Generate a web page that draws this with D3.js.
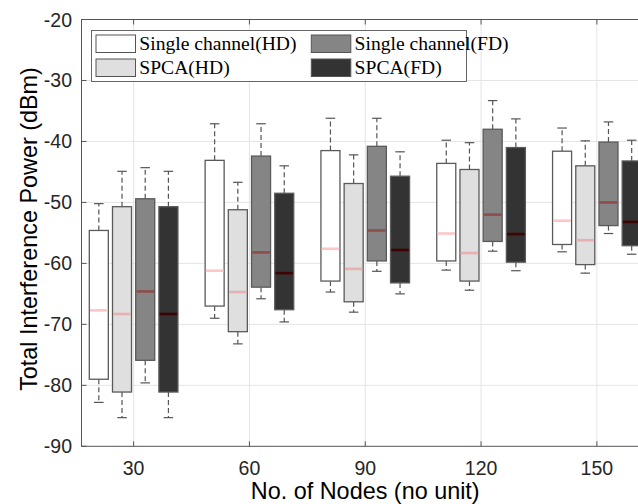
<!DOCTYPE html>
<html lang="en">
<head>
  <meta charset="utf-8">
  <title>Total Interference Power vs No. of Nodes</title>
  <script src="https://d3js.org/d3.v7.min.js"></script>
  <style>
    body { margin: 0; background: #fff; }
    svg { display: block; }
    .tick-label { font-family: "Liberation Sans", Arial, sans-serif; font-size: 19.5px; fill: #262626; }
    .axis-title { font-family: "Liberation Sans", Arial, sans-serif; font-size: 23.4px; fill: #000; }
    .legend text { font-family: "Liberation Serif", "Times New Roman", serif; font-size: 19.6px; fill: #000; }
  </style>
</head>
<body>
  <svg></svg>
  <script>
    // x categories (no. of nodes)
    const nodeCounts = [30, 60, 90, 120, 150];
    const yTicks = [-90, -80, -70, -60, -50, -40, -30, -20];

    // each row: [lower whisker, q1, median, q3, upper whisker] in dBm
    const singleHD = [
      [-82.8, -79.0, -67.7, -54.6, -50.2],
      [-69.0, -67.0, -61.2, -43.1, -37.1],
      [-64.7, -62.9, -57.6, -41.5, -36.2],
      [-61.1, -59.6, -55.1, -43.6, -39.8],
      [-58.1, -56.9, -53.0, -41.6, -37.8]
    ];
    const spcaHD = [
      [-85.3, -81.1, -68.3, -50.7, -44.9],
      [-73.2, -71.2, -64.7, -51.2, -46.7],
      [-68.0, -66.3, -60.9, -46.9, -42.2],
      [-64.4, -62.9, -58.3, -44.6, -40.2],
      [-61.6, -60.2, -56.2, -44.0, -39.9]
    ];
    const singleFD = [
      [-79.6, -75.9, -64.6, -49.4, -44.3],
      [-65.8, -63.9, -58.2, -42.4, -37.1],
      [-61.3, -59.6, -54.6, -40.8, -36.2],
      [-58.0, -56.4, -52.0, -38.0, -33.3],
      [-55.1, -53.8, -50.0, -40.1, -36.8]
    ];
    const spcaFD = [
      [-85.3, -81.1, -68.3, -50.7, -44.9],
      [-69.6, -67.6, -61.6, -48.5, -44.0],
      [-65.0, -63.2, -57.8, -45.7, -41.7],
      [-61.2, -59.8, -55.2, -41.0, -36.3],
      [-58.5, -57.1, -53.2, -43.2, -39.8]
    ];

    const seriesNames = ["Single channel(HD)", "SPCA(HD)", "Single channel(FD)", "SPCA(FD)"];
    const seriesData = [singleHD, spcaHD, singleFD, spcaFD];
    const fills = ["#ffffff", "#dfdfdf", "#858585", "#333333"];
    const medianColors = ["#ffc6c6", "#e8b0b0", "#8e4c4c", "#3e0404"];

    const width = 638, height = 504;
    const svg = d3.select("svg").attr("width", width).attr("height", height);

    // plot area (right edge runs past the window, as in the original)
    const pLeft = 81.5, pRight = 649, pTop = 19.5, pBottom = 446.3;

    // boxes sit at positions 1..5, the axis goes 0.55..5.45
    const x = d3.scaleLinear().domain([0.55, 5.45]).range([pLeft, pRight]);
    const y = d3.scaleLinear().domain([-90, -20]).range([pBottom, pTop]);

    // offset of each series inside a group
    const inner = d3.scaleBand().domain(seriesNames).range([-46.4, 46.4])
      .paddingInner(0.18).paddingOuter(0.09);
    const bw = inner.bandwidth();

    // grid
    const grid = svg.append("g").attr("stroke", "#e4e4e4").attr("stroke-width", 1);
    grid.selectAll(".gy").data(yTicks.slice(1, -1)).enter().append("line")
      .attr("x1", pLeft).attr("x2", pRight)
      .attr("y1", d => y(d)).attr("y2", d => y(d));
    grid.selectAll(".gx").data(nodeCounts).enter().append("line")
      .attr("x1", (d, i) => x(i + 1)).attr("x2", (d, i) => x(i + 1))
      .attr("y1", pTop).attr("y2", pBottom);

    // boxes
    seriesData.forEach((rows, s) => {
      const g = svg.append("g");
      rows.forEach((r, i) => {
        const cx = x(i + 1) + inner(seriesNames[s]) + bw / 2;
        const x0 = cx - bw / 2;
        const [lo, q1, med, q3, hi] = r;
        // whiskers
        g.append("line").attr("x1", cx).attr("x2", cx).attr("y1", y(q3)).attr("y2", y(hi))
          .attr("stroke", "#555").attr("stroke-width", 1.2).attr("stroke-dasharray", "5,3");
        g.append("line").attr("x1", cx).attr("x2", cx).attr("y1", y(q1)).attr("y2", y(lo))
          .attr("stroke", "#555").attr("stroke-width", 1.2).attr("stroke-dasharray", "5,3");
        // caps
        [lo, hi].forEach(v => {
          g.append("line").attr("x1", cx - bw / 4).attr("x2", cx + bw / 4)
            .attr("y1", y(v)).attr("y2", y(v))
            .attr("stroke", "#555").attr("stroke-width", 1.2);
        });
        g.append("rect")
          .attr("x", x0).attr("y", y(q3))
          .attr("width", bw).attr("height", y(q1) - y(q3))
          .attr("fill", fills[s])
          .attr("stroke", "#5a5a5a").attr("stroke-width", 1.3);
        g.append("line").attr("x1", x0 + 0.7).attr("x2", x0 + bw - 0.7)
          .attr("y1", y(med)).attr("y2", y(med))
          .attr("stroke", medianColors[s]).attr("stroke-width", 2.6);
      });
    });

    // axes frame
    const axisColor = "#555";
    svg.append("rect").attr("x", pLeft).attr("y", pTop)
      .attr("width", pRight - pLeft).attr("height", pBottom - pTop)
      .attr("fill", "none").attr("stroke", axisColor).attr("stroke-width", 1);

    // tick marks (pointing inwards) and labels
    yTicks.forEach(t => {
      svg.append("line").attr("x1", pLeft).attr("x2", pLeft + 5)
        .attr("y1", y(t)).attr("y2", y(t)).attr("stroke", axisColor);
      svg.append("text").attr("class", "tick-label")
        .attr("x", pLeft - 9.5).attr("y", y(t)).attr("dy", "0.36em")
        .attr("text-anchor", "end").text(t);
    });
    nodeCounts.forEach((n, i) => {
      svg.append("line").attr("x1", x(i + 1)).attr("x2", x(i + 1))
        .attr("y1", pBottom).attr("y2", pBottom - 5).attr("stroke", axisColor);
      svg.append("line").attr("x1", x(i + 1)).attr("x2", x(i + 1))
        .attr("y1", pTop).attr("y2", pTop + 5).attr("stroke", axisColor);
      svg.append("text").attr("class", "tick-label")
        .attr("x", x(i + 1)).attr("y", 474.5)
        .attr("text-anchor", "middle").text(n);
    });

    // axis titles
    svg.append("text").attr("class", "axis-title")
      .attr("x", (pLeft + pRight) / 2).attr("y", 498.5)
      .attr("text-anchor", "middle").text("No. of Nodes (no unit)");
    svg.append("text").attr("class", "axis-title")
      .attr("transform", "translate(36.5,229) rotate(-90)")
      .attr("text-anchor", "middle").text("Total Interference Power (dBm)");

    // legend, 2 columns, text runs past the right border like the original
    const legend = svg.append("g").attr("class", "legend");
    legend.append("rect").attr("x", 91.5).attr("y", 30.5)
      .attr("width", 375).attr("height", 51)
      .attr("fill", "#fff").attr("stroke", "#666").attr("stroke-width", 1);
    const legendOrder = [0, 2, 1, 3]; // row-major: HD/FD single, then SPCA
    legendOrder.forEach((s, k) => {
      const col = k % 2, row = Math.floor(k / 2);
      const lx = col === 0 ? 96 : 311.3;
      const ly = row === 0 ? 35 : 59;
      legend.append("rect").attr("x", lx).attr("y", ly)
        .attr("width", 39.5).attr("height", 17.5)
        .attr("fill", fills[s]).attr("stroke", "#555").attr("stroke-width", 1);
      legend.append("text").attr("x", lx + 43.3).attr("y", ly + 14.5)
        .text(seriesNames[s]);
    });
  </script>
</body>
</html>
